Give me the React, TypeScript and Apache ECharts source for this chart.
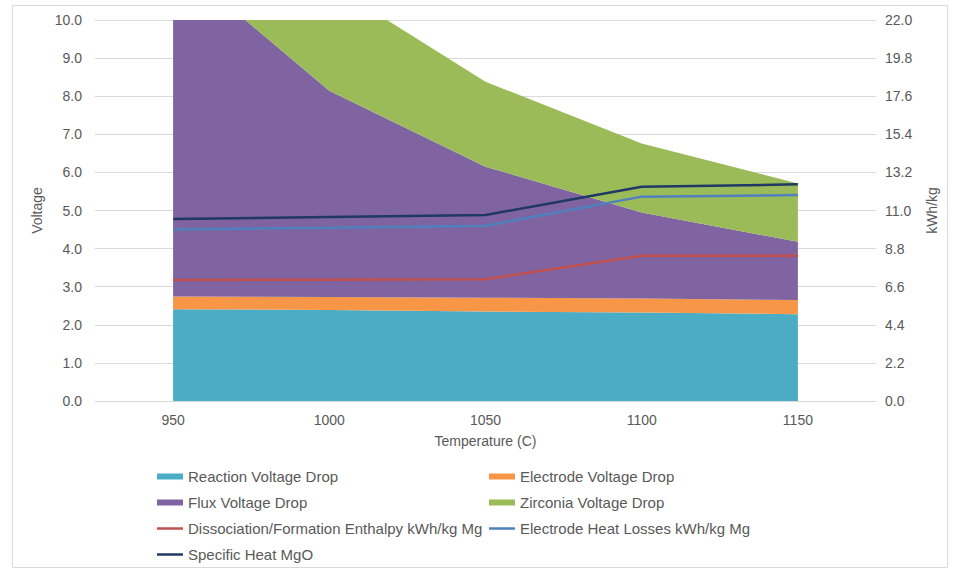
import React, { useEffect, useRef } from "react";
import * as echarts from "echarts";

const categories = ["950", "1000", "1050", "1100", "1150"];
const reactionDrop = [2.41, 2.39, 2.35, 2.32, 2.28];
const electrodeDrop = [0.33, 0.34, 0.36, 0.37, 0.37];
const fluxDrop = [8.86, 5.41, 3.44, 2.26, 1.53];
const zirconiaDrop = [3.3, 2.81, 2.23, 1.81, 1.53];
const dissociation = [6.99, 7.0, 7.03, 8.39, 8.39];
const heatLosses = [9.91, 10.0, 10.12, 11.8, 11.89];
const specificHeat = [10.51, 10.62, 10.74, 12.37, 12.51];

const FONT = "Liberation Sans";
const GREY = "#595959";

export default function App() {
  const ref = useRef<HTMLDivElement>(null);
  useEffect(() => {
    const chart = echarts.init(ref.current!, undefined, { renderer: "svg" });
    const area = (name: string, data: number[], color: string) => ({
      name,
      type: "line",
      stack: "v",
      data,
      symbol: "none",
      lineStyle: { width: 0 },
      itemStyle: { color },
      areaStyle: { color, opacity: 1 },
      yAxisIndex: 0,
    });
    const line = (name: string, data: number[], color: string) => ({
      name,
      type: "line",
      data,
      symbol: "none",
      lineStyle: { width: 2.5, color },
      itemStyle: { color },
      yAxisIndex: 1,
    });
    const leg = (name: string, left: number, top: number, isLine: boolean) => ({
      data: [name],
      left,
      top,
      icon: "rect",
      itemWidth: 26,
      itemHeight: isLine ? 2.5 : 6,
      padding: 0,
      selectedMode: false,
      textStyle: { color: GREY, fontSize: 15, fontFamily: FONT },
    });
    chart.setOption({
      animation: false,
      textStyle: { fontFamily: FONT },
      graphic: [
        {
          type: "rect",
          shape: { x: 12.5, y: 5.5, width: 935, height: 562 },
          style: { fill: "none", stroke: "#d9d9d9", lineWidth: 1 },
          silent: true,
        },
      ],
      grid: { left: 95, right: 77, top: 20, height: 381, containLabel: false },
      legend: [
        leg("Reaction Voltage Drop", 157, 469, false),
        leg("Electrode Voltage Drop", 489, 469, false),
        leg("Flux Voltage Drop", 157, 495, false),
        leg("Zirconia Voltage Drop", 489, 495, false),
        leg("Dissociation/Formation Enthalpy kWh/kg Mg", 157, 521, true),
        leg("Electrode Heat Losses kWh/kg Mg", 489, 521, true),
        leg("Specific Heat MgO", 157, 547, true),
      ],
      xAxis: {
        type: "category",
        data: categories,
        boundaryGap: true,
        axisLine: { show: false },
        axisTick: { show: false },
        axisLabel: { color: GREY, fontSize: 14, margin: 12 },
        name: "Temperature (C)",
        nameLocation: "middle",
        nameGap: 33,
        nameTextStyle: { color: GREY, fontSize: 14 },
      },
      yAxis: [
        {
          type: "value",
          min: 0,
          max: 10,
          interval: 1,
          axisLine: { show: false },
          axisTick: { show: false },
          axisLabel: { color: GREY, fontSize: 14, margin: 13, formatter: (v: number) => v.toFixed(1) },
          splitLine: { lineStyle: { color: "#d9d9d9", width: 1 } },
          name: "Voltage",
          nameLocation: "middle",
          nameRotate: 90,
          nameGap: 51,
          nameTextStyle: { color: GREY, fontSize: 14 },
        },
        {
          type: "value",
          min: 0,
          max: 22,
          interval: 2.2,
          position: "right",
          axisLine: { show: false },
          axisTick: { show: false },
          axisLabel: { color: GREY, fontSize: 14, margin: 9, formatter: (v: number) => v.toFixed(1) },
          splitLine: { show: false },
          name: "kWh/kg",
          nameLocation: "middle",
          nameRotate: 90,
          nameGap: 49,
          nameTextStyle: { color: GREY, fontSize: 14 },
        },
      ],
      series: [
        area("Reaction Voltage Drop", reactionDrop, "#4bacc6"),
        area("Electrode Voltage Drop", electrodeDrop, "#f79646"),
        area("Flux Voltage Drop", fluxDrop, "#8064a2"),
        area("Zirconia Voltage Drop", zirconiaDrop, "#9bbb59"),
        line("Dissociation/Formation Enthalpy kWh/kg Mg", dissociation, "#c0504d"),
        line("Electrode Heat Losses kWh/kg Mg", heatLosses, "#4f81bd"),
        line("Specific Heat MgO", specificHeat, "#1f3864"),
      ],
    });
    return () => chart.dispose();
  }, []);
  return (
    <div
      ref={ref}
      style={{ position: "fixed", left: 0, top: 0, width: 953, height: 571, background: "#fff" }}
    />
  );
}
